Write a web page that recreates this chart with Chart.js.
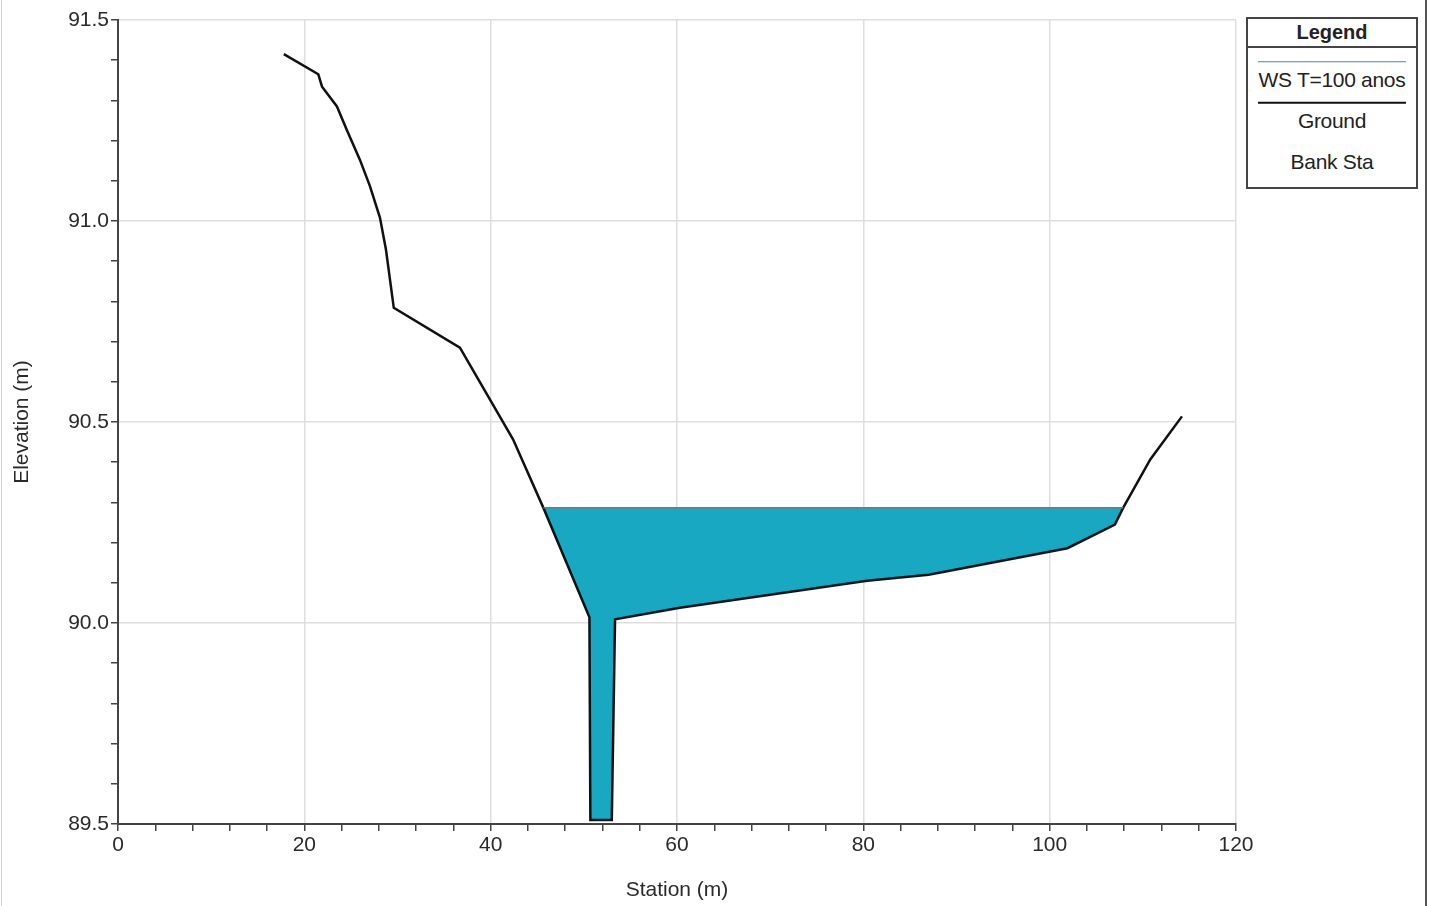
<!DOCTYPE html>
<html>
<head>
<meta charset="utf-8">
<script src="https://cdn.jsdelivr.net/npm/chart.js@4.4.1/dist/chart.umd.min.js"></script>
<style>
  html, body { margin: 0; padding: 0; background: #fff; }
  #wrap { position: relative; width: 1431px; height: 906px; overflow: hidden; }
  #chart { position: absolute; left: 0; top: 0; }
  .frame-r { position: absolute; left: 1425px; top: 0; width: 2px; height: 906px; background: #555; }
  .frame-l { position: absolute; left: 1px; top: 0; width: 1px; height: 906px; background: #d0d0d0; }
  #legend { position: absolute; left: 1246px; top: 17px; width: 168px; height: 168px; border: 2px solid #444;
            background: #fff; font-family: "Liberation Sans", Arial, sans-serif; color: #222; }
  #legend .title { height: 27px; line-height: 27px; text-align: center; font-weight: bold; font-size: 20px; border-bottom: 2px solid #444; }
  #legend .items { padding-top: 14px; }
  #legend .item { position: relative; height: 41px; }
  #legend .swatch { position: absolute; left: 10px; right: 10px; top: 0; }
  #legend .label { position: absolute; left: 0; right: 0; top: 6px; line-height: 24px; text-align: center; font-size: 21px; letter-spacing: -0.3px; }
</style>
</head>
<body>
<div id="wrap">
  <canvas id="chart" width="1431" height="906"></canvas>
  <div class="frame-l"></div>
  <div class="frame-r"></div>
  <div id="legend"><div class="title">Legend</div><div class="items" id="legend-items"></div></div>
</div>
<script>
// cross section data
const groundStation = [17.8, 21.5, 21.9, 23.5, 24.55, 25.97, 27.05, 28.12, 28.76, 29.6, 36.7, 42.4, 45.65, 50.6, 50.7, 53.0, 53.35, 60.3, 80.4, 87.0, 101.9, 107.0, 107.9, 110.8, 114.2];
const groundElev    = [91.415, 91.365, 91.334, 91.285, 91.227, 91.152, 91.086, 91.008, 90.929, 90.784, 90.685, 90.457, 90.287, 90.014, 89.51, 89.51, 90.009, 90.038, 90.105, 90.12, 90.186, 90.245, 90.287, 90.407, 90.514];
const wsStation = [45.65, 107.9];
const wsElev    = [90.287, 90.287];
const bankStation = [];
const bankElev    = [];
const seriesNames = ['WS T=100 anos', 'Ground', 'Bank Sta'];

const xMajor = 20, yMajor = 0.5;
const isMajor = (v, step) => Math.abs(v / step - Math.round(v / step)) < 1e-6;
const pts = (xs, ys) => xs.map((x, i) => ({x: x, y: ys[i]}));

const htmlLegend = {
  id: 'htmlLegend',
  afterUpdate(chart) {
    const box = document.getElementById('legend-items');
    box.innerHTML = '';
    Chart.defaults.plugins.legend.labels.generateLabels(chart).forEach(item => {
      const row = document.createElement('div');
      row.className = 'item';
      if (item.lineWidth > 0) {
        const sw = document.createElement('div');
        sw.className = 'swatch';
        sw.style.borderTop = item.lineWidth + 'px solid ' + item.strokeStyle;
        sw.style.transform = 'translateY(' + (-item.lineWidth / 2) + 'px)';
        row.appendChild(sw);
      }
      const lb = document.createElement('div');
      lb.className = 'label';
      lb.textContent = item.text;
      row.appendChild(lb);
      box.appendChild(row);
    });
  }
};

const tickFont = {family: '"Liberation Sans", Arial, sans-serif', size: 21};
const titleFont = {family: '"Liberation Sans", Arial, sans-serif', size: 21};

new Chart(document.getElementById('chart'), {
  type: 'line',
  data: {
    datasets: [{
      label: seriesNames[0],
      data: pts(wsStation, wsElev),
      borderColor: '#4f8796',
      borderWidth: 1.5,
      backgroundColor: '#18a8c1',
      fill: {target: 1},
      pointRadius: 0
    }, {
      label: seriesNames[1],
      data: pts(groundStation, groundElev),
      borderColor: '#111',
      borderWidth: 2.5,
      fill: false,
      pointRadius: 0
    }, {
      label: seriesNames[2],
      data: pts(bankStation, bankElev),
      borderWidth: 0,
      pointRadius: 0,
      fill: false
    }]
  },
  options: {
    responsive: false,
    animation: false,
    layout: {padding: {top: 20, right: 195, left: 0, bottom: 0}},
    plugins: {
      legend: {display: false},
      tooltip: {enabled: false},
      filler: {drawTime: 'beforeDatasetsDraw'}
    },
    scales: {
      x: {
        type: 'linear', min: 0, max: 120,
        afterFit: s => { s.height = 82; },
        ticks: {
          stepSize: 4, autoSkip: false, maxRotation: 0, maxTicksLimit: 100,
          callback: v => isMajor(v, xMajor) ? String(v) : '',
          font: tickFont, color: '#2a2a2a', padding: 2
        },
        grid: {
          color: c => isMajor(c.tick.value, xMajor) ? '#dedede' : 'rgba(0,0,0,0)',
          tickColor: '#444', tickLength: 7, lineWidth: 1.5
        },
        border: {color: '#444', width: 2},
        title: {display: true, text: 'Station (m)', font: titleFont, color: '#2a2a2a', padding: {top: 4, bottom: 3}}
      },
      y: {
        type: 'linear', min: 89.5, max: 91.5,
        afterFit: s => { s.width = 118; },
        ticks: {
          stepSize: 0.1, autoSkip: false, maxTicksLimit: 100,
          callback: v => isMajor(v, yMajor) ? v.toFixed(1) : '',
          font: tickFont, color: '#2a2a2a', padding: 2
        },
        grid: {
          color: c => isMajor(c.tick.value, yMajor) ? '#dedede' : 'rgba(0,0,0,0)',
          tickColor: '#444', tickLength: 7, lineWidth: 1.5
        },
        border: {color: '#444', width: 2},
        title: {display: true, text: 'Elevation (m)', font: titleFont, color: '#2a2a2a', padding: {top: 10, bottom: 0}}
      }
    }
  },
  plugins: [htmlLegend]
});
</script>
</body>
</html>
